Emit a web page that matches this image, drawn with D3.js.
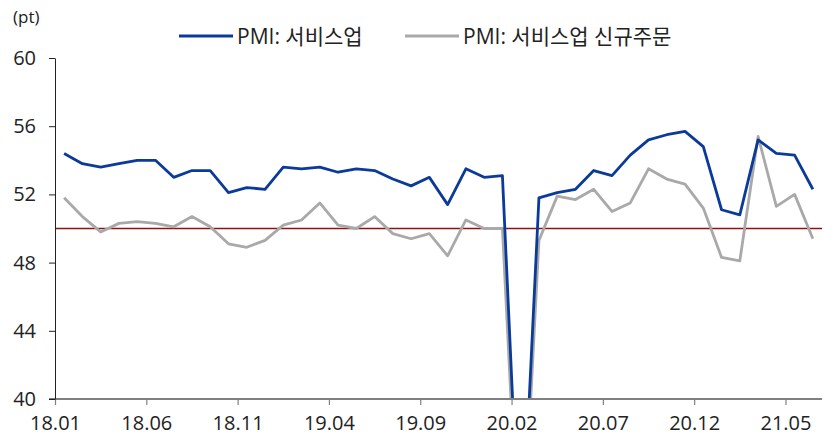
<!DOCTYPE html>
<html>
<head>
<meta charset="utf-8">
<script src="https://cdn.jsdelivr.net/npm/d3@7"></script>
<style>
  body { margin: 0; background: #fff; }
  text { font-family: "Open Sans", "Noto Sans CJK KR", sans-serif; fill: #222; }
</style>
</head>
<body>
<script>
var months = ["18.01","18.02","18.03","18.04","18.05","18.06","18.07","18.08","18.09","18.10","18.11","18.12",
  "19.01","19.02","19.03","19.04","19.05","19.06","19.07","19.08","19.09","19.10","19.11","19.12",
  "20.01","20.02","20.03","20.04","20.05","20.06","20.07","20.08","20.09","20.10","20.11","20.12",
  "21.01","21.02","21.03","21.04","21.05","21.06"];

var tickLabels = ["18.01","18.06","18.11","19.04","19.09","20.02","20.07","20.12","21.05"];

// PMI: 서비스업
var services = [54.4,53.8,53.6,53.8,54.0,54.0,53.0,53.4,53.4,52.1,52.4,52.3,
  53.6,53.5,53.6,53.3,53.5,53.4,52.9,52.5,53.0,51.4,53.5,53.0,
  53.1,29.6,51.8,52.1,52.3,53.4,53.1,54.3,55.2,55.5,55.7,54.8,
  51.1,50.8,55.2,54.4,54.3,52.3];

// PMI: 서비스업 신규주문
var newOrders = [51.8,50.7,49.8,50.3,50.4,50.3,50.1,50.7,50.1,49.1,48.9,49.3,
  50.2,50.5,51.5,50.2,50.0,50.7,49.7,49.4,49.7,48.4,50.5,50.0,
  50.0,28.6,49.3,51.9,51.7,52.3,51.0,51.5,53.5,52.9,52.6,51.2,
  48.3,48.1,55.4,51.3,52.0,49.4];

var yTicks = [40, 44, 48, 52, 56, 60];

window.onload = function() {
  var w = 825, h = 437;
  var left = 55, right = 822, top = 58, bottom = 399;

  var svg = d3.select("body").append("svg")
      .attr("width", w)
      .attr("height", h);

  var x = d3.scaleLinear().domain([0, months.length]).range([left, right]);
  var y = d3.scaleLinear().domain([40, 60]).range([bottom, top]);

  svg.append("defs").append("clipPath").attr("id", "plot")
    .append("rect")
      .attr("x", left).attr("y", top - 10)
      .attr("width", right - left).attr("height", bottom - top + 11);

  // 50 reference line
  svg.append("line")
      .attr("x1", left).attr("x2", right)
      .attr("y1", y(50)).attr("y2", y(50))
      .style("stroke", "#8e1010")
      .style("stroke-width", 1.5);

  var line = d3.line()
      .x(function(d, i){ return x(i + 0.5); })
      .y(function(d){ return y(d); });

  var g = svg.append("g").attr("clip-path", "url(#plot)");

  g.append("path")
      .datum(newOrders)
      .attr("d", line)
      .style("fill", "none")
      .style("stroke", "#a9a9a9")
      .style("stroke-width", 2.8)
      .style("stroke-linejoin", "round");

  g.append("path")
      .datum(services)
      .attr("d", line)
      .style("fill", "none")
      .style("stroke", "#0a3a9a")
      .style("stroke-width", 2.8)
      .style("stroke-linejoin", "round");

  // x axis
  var tickIdx = tickLabels.map(function(t){ return months.indexOf(t); });
  var xAxis = svg.append("g")
      .attr("transform", "translate(0," + bottom + ")")
      .call(d3.axisBottom(x)
        .tickValues(tickIdx)
        .tickSize(6)
        .tickSizeOuter(0)
        .tickFormat(function(d){ return months[d]; }));
  xAxis.select(".domain").attr("d", "M" + (left - 6) + ",0H" + right)
      .style("stroke", "#808080").style("stroke-width", 2);
  xAxis.selectAll(".tick line").style("stroke", "#808080").style("stroke-width", 1.2);
  xAxis.selectAll(".tick text")
      .attr("y", 17)
      .style("font-size", "20px")
      .style("font-family", "'Open Sans', sans-serif")
      .style("fill", "#222");

  // y axis
  var yAxis = svg.append("g")
      .attr("transform", "translate(" + left + ",0)")
      .call(d3.axisLeft(y).tickValues(yTicks).tickSize(6).tickSizeOuter(0));
  yAxis.select(".domain").style("stroke", "#222");
  yAxis.selectAll(".tick line").style("stroke", "#222");
  yAxis.selectAll(".tick text")
      .attr("x", -19)
      .style("font-size", "20px")
      .style("font-family", "'Open Sans', sans-serif")
      .style("fill", "#222");

  svg.append("text")
      .attr("x", 13).attr("y", 23)
      .style("font-size", "17px")
      .text("(pt)");

  // legend
  var legend = [
    { name: "PMI: 서비스업", color: "#0a3a9a", x: 179 },
    { name: "PMI: 서비스업 신규주문", color: "#a9a9a9", x: 405 }
  ];
  var lg = svg.selectAll(".legend")
      .data(legend)
      .enter()
      .append("g")
      .attr("class", "legend")
      .attr("transform", function(d){ return "translate(" + d.x + ",36)"; });
  lg.append("line")
      .attr("x1", 0).attr("x2", 54)
      .style("stroke", function(d){ return d.color; })
      .style("stroke-width", 2.8);
  lg.append("text")
      .attr("x", 58).attr("y", 8)
      .style("font-size", "21px")
      .text(function(d){ return d.name; });
};
</script>
</body>
</html>
